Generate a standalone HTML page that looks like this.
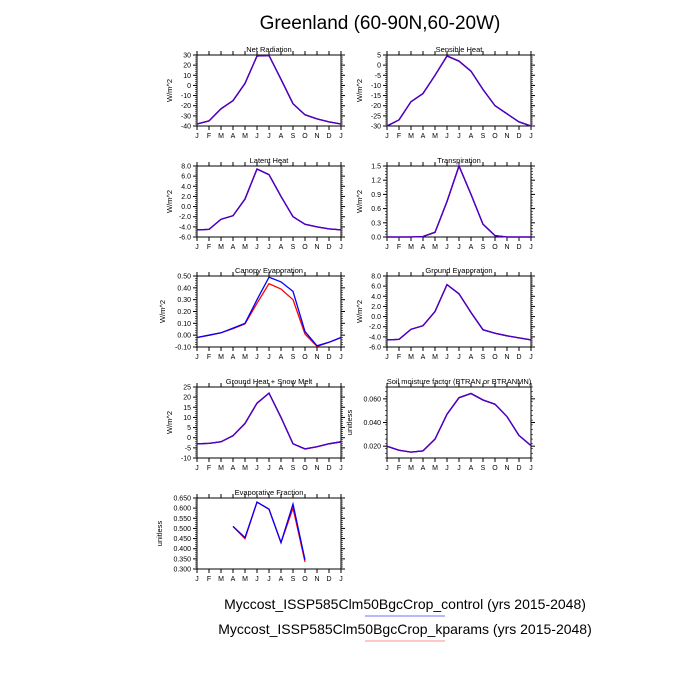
<!DOCTYPE html>
<html><head><style>body{margin:0;background:#fff}svg{display:block}text{font-family:"Liberation Sans",sans-serif}</style></head>
<body>
<svg id="s" width="700" height="700" xmlns="http://www.w3.org/2000/svg">
<text x="380" y="29" font-size="19" text-anchor="middle">Greenland (60-90N,60-20W)</text>
<text x="405" y="609" font-size="14" text-anchor="middle">Myccost_ISSP585Clm50BgcCrop_control (yrs 2015-2048)</text>
<line x1="365" y1="616" x2="445" y2="616" stroke="#7070ff" stroke-width="1"/>
<text x="405" y="634" font-size="14" text-anchor="middle">Myccost_ISSP585Clm50BgcCrop_kparams (yrs 2015-2048)</text>
<line x1="365" y1="641" x2="445" y2="641" stroke="#ff9090" stroke-width="1"/>
</svg>
<script>
var s=document.getElementById('s'),h='';
var M="JFMAMJJASONDJ";
var P=[
{x:197,y:55,t:"Net Radiation",lo:-40,hi:30,ticks:[30,20,10,0,-10,-20,-30,-40],d:0,yl:"W/m^2",
b:[-38,-35,-23,-15,2,29,29.5,6,-18,-29,-33,-36,-38]},
{x:387,y:55,t:"Sensible Heat",lo:-30,hi:5,ticks:[5,0,-5,-10,-15,-20,-25,-30],d:0,yl:"W/m^2",
b:[-30,-27,-18,-14,-5,4.5,2,-3,-12,-20,-24,-28,-30]},
{x:197,y:166,t:"Latent Heat",lo:-6,hi:8,ticks:[8,6,4,2,0,-2,-4,-6],d:1,yl:"W/m^2",
b:[-4.6,-4.5,-2.5,-1.8,1.5,7.4,6.3,2,-2,-3.5,-4,-4.4,-4.6]},
{x:387,y:166,t:"Transpiration",lo:0,hi:1.5,ticks:[1.5,1.2,0.9,0.6,0.3,0],d:1,yl:"W/m^2",
b:[0,0,0,0.01,0.1,0.75,1.5,0.9,0.27,0.03,0,0,0]},
{x:197,y:276,t:"Canopy Evaporation",lo:-0.1,hi:0.5,ticks:[0.5,0.4,0.3,0.2,0.1,0,-0.1],d:2,yl:"W/m^2",
b:[-0.02,0,0.02,0.06,0.1,0.3,0.49,0.45,0.37,0.03,-0.09,-0.06,-0.02],
r:[-0.02,0,0.02,0.055,0.095,0.27,0.435,0.39,0.30,0.01,-0.095,-0.06,-0.02]},
{x:387,y:276,t:"Ground Evaporation",lo:-6,hi:8,ticks:[8,6,4,2,0,-2,-4,-6],d:1,yl:"W/m^2",
b:[-4.6,-4.5,-2.5,-1.8,1,6.3,4.5,0.8,-2.6,-3.3,-3.8,-4.2,-4.6]},
{x:197,y:387,t:"Ground Heat + Snow Melt",lo:-10,hi:25,ticks:[25,20,15,10,5,0,-5,-10],d:0,yl:"W/m^2",
b:[-3,-2.8,-2,1,7,17,22,10,-3,-5.5,-4.5,-3,-2]},
{x:387,y:387,t:"Soil moisture factor (BTRAN or BTRANMN)",lo:0.01,hi:0.07,ticks:[0.06,0.04,0.02],d:3,yl:"unitless",
b:[.020,.0165,.015,.016,.026,.047,.061,.0645,.059,.0555,.045,.029,.0205]},
{x:197,y:498,t:"Evaporative Fraction",lo:0.3,hi:0.65,ticks:[0.65,0.6,0.55,0.5,0.45,0.4,0.35,0.3],d:3,yl:"unitless",
b:[null,null,null,0.51,0.455,0.63,0.595,0.43,0.62,0.345],
r:[null,null,null,0.51,0.45,0.63,0.595,0.43,0.60,0.335]}
];
var W=144,H=71;
P.forEach(function(p){
 var X=function(i){return p.x+i*W/12},Y=function(v){return p.y+H-(v-p.lo)/(p.hi-p.lo)*H};
 h+='<text x="'+(p.x+W/2)+'" y="'+(p.y-3)+'" font-size="7.5" text-anchor="middle">'+p.t+'</text>';
 h+='<rect x="'+p.x+'" y="'+p.y+'" width="'+W+'" height="'+H+'" fill="none" stroke="#000" stroke-width="1"/>';
 for(var i=0;i<13;i++){var xx=X(i);
  h+='<line x1="'+xx+'" y1="'+p.y+'" x2="'+xx+'" y2="'+(p.y-4)+'" stroke="#000"/>';
  h+='<line x1="'+xx+'" y1="'+(p.y+H)+'" x2="'+xx+'" y2="'+(p.y+H+4)+'" stroke="#000"/>';
  h+='<text x="'+xx+'" y="'+(p.y+H+12)+'" font-size="7" text-anchor="middle">'+M[i]+'</text>';}
 var step=(p.ticks[0]-p.ticks[1]);
 for(var v=p.lo;v<=p.hi+1e-9;v+=step/5){var yy=Y(v);
  h+='<line x1="'+p.x+'" y1="'+yy+'" x2="'+(p.x-2)+'" y2="'+yy+'" stroke="#000" stroke-width=".6"/><line x1="'+(p.x+W)+'" y1="'+yy+'" x2="'+(p.x+W+2)+'" y2="'+yy+'" stroke="#000" stroke-width=".6"/>';}
 p.ticks.forEach(function(v){var yy=Y(v);
  h+='<line x1="'+p.x+'" y1="'+yy+'" x2="'+(p.x-4)+'" y2="'+yy+'" stroke="#000"/><line x1="'+(p.x+W)+'" y1="'+yy+'" x2="'+(p.x+W+4)+'" y2="'+yy+'" stroke="#000"/>';
  h+='<text x="'+(p.x-6)+'" y="'+(yy+2.5)+'" font-size="7" text-anchor="end">'+v.toFixed(p.d)+'</text>';});
 var lx=p.d==3?p.x-35:(p.d==2?p.x-32:p.x-25);
 h+='<text transform="translate('+lx+','+(p.y+H/2)+') rotate(-90)" font-size="7.5" text-anchor="middle">'+p.yl+'</text>';
 function line(a,c){var pts=[];a.forEach(function(v,i){if(v!==null)pts.push(X(i).toFixed(1)+','+Y(v).toFixed(1))});
  h+='<polyline points="'+pts.join(' ')+'" fill="none" stroke="'+c+'" stroke-width="1.3"/>';}
 line(p.r||p.b,'#f00');line(p.b,'#00f');
 if(!p.r){line(p.b,'#5000c0');}
});
s.insertAdjacentHTML('beforeend',h);
</script>
</body></html>
